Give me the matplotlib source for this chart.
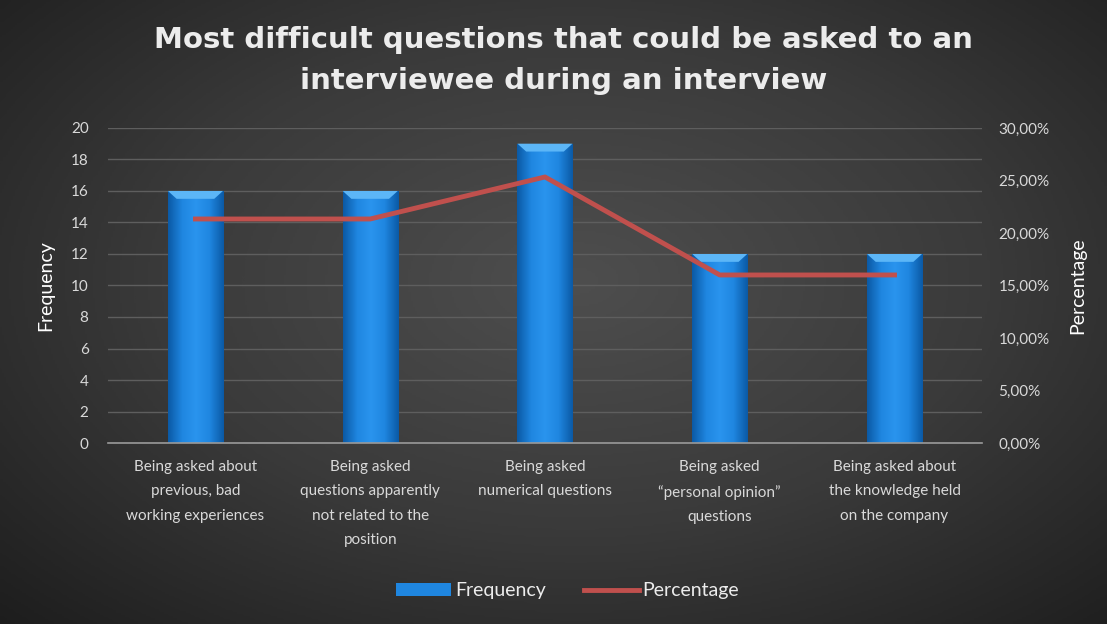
import matplotlib
matplotlib.use("Agg")
import matplotlib.pyplot as plt
import numpy as np
from matplotlib.patches import Polygon
from matplotlib.colors import LinearSegmentedColormap
from matplotlib.ticker import FuncFormatter

# Survey answers
categories = [
    "Being asked about\nprevious, bad\nworking experiences",
    "Being asked\nquestions apparently\nnot related to the\nposition",
    "Being asked\nnumerical questions",
    "Being asked\n\u201cpersonal opinion\u201d\nquestions",
    "Being asked about\nthe knowledge held\non the company",
]
frequency = [16, 16, 19, 12, 12]
percentage = [21.33, 21.33, 25.33, 16.00, 16.00]

title = "Most difficult questions that could be asked to an\ninterviewee during an interview"

plt.rcParams['font.family'] = ['Lato', 'DejaVu Sans']
txt = '#d9d9d9'

fig = plt.figure(figsize=(11.07, 6.24), dpi=100)

# dark radial backdrop
bg = fig.add_axes([0, 0, 1, 1], zorder=-10)
yy, xx = np.mgrid[0:1:300j, 0:1:500j]
r = np.sqrt(((xx - 0.52) / 0.75) ** 2 + ((yy - 0.45) / 0.8) ** 2)
bg_cmap = LinearSegmentedColormap.from_list('bg', ['#4e4e4e', '#3a3a3a', '#1c1c1c'])
bg.imshow(np.clip(r, 0, 1), cmap=bg_cmap, aspect='auto', extent=(0, 1, 0, 1), vmin=0, vmax=1)
bg.axis('off')

ax = fig.add_axes([0.0976, 0.29, 0.7894, 0.505])
ax.patch.set_alpha(0)
x = np.arange(len(categories))

bar_cmap = LinearSegmentedColormap.from_list('bar', ['#0b5aa6', '#1f86e0', '#2a94ee', '#1f86e0', '#0b5aa6'])
bars = ax.bar(x, frequency, width=0.315, color='#1f86e0', zorder=2, label='Frequency')
grad = np.linspace(0, 1, 64).reshape(1, -1)
for b in bars:
    x0, w, h = b.get_x(), b.get_width(), b.get_height()
    im = ax.imshow(grad, cmap=bar_cmap, aspect='auto', extent=(x0, x0 + w, 0, h), zorder=2.1)
    im.set_clip_path(b)
    # light bevel on top
    bh, inset = 0.5, 0.05
    ax.add_patch(Polygon([(x0, h), (x0 + w, h), (x0 + w - inset, h - bh), (x0 + inset, h - bh)],
                         closed=True, facecolor='#5cb6f7', edgecolor='none', zorder=2.2))

ax.set_xlim(-0.5, len(categories) - 0.5)
ax.set_ylim(0, 20)
ax.set_yticks(range(0, 21, 2))
ax.grid(axis='y', color='#5e5e5e', lw=1, zorder=0)
for s in ['top', 'right', 'left']:
    ax.spines[s].set_visible(False)
ax.spines['bottom'].set_color('#9a9a9a')
ax.spines['bottom'].set_linewidth(1.2)
ax.tick_params(axis='both', length=0, colors=txt, labelsize=11)
ax.tick_params(axis='y', pad=14)
ax.tick_params(axis='x', pad=12)
ax.set_xticks(x)
ax.set_xticklabels(categories, fontsize=11, color=txt, linespacing=1.95, va='top')
ax.set_ylabel('Frequency', color='white', fontsize=14, labelpad=12)

ax2 = ax.twinx()
ax2.patch.set_alpha(0)
line, = ax2.plot(x, percentage, color='#c0504d', lw=3.5, zorder=3, label='Percentage')
ax2.set_ylim(0, 30)
ax2.set_yticks(range(0, 31, 5))
ax2.yaxis.set_major_formatter(FuncFormatter(lambda v, p: f"{v:.2f}%".replace('.', ',')))
for s in ax2.spines.values():
    s.set_visible(False)
ax2.tick_params(axis='y', length=0, colors=txt, labelsize=11, pad=12)
ax2.set_ylabel('Percentage', color='white', fontsize=14, labelpad=14)

fig.text(0.509, 0.903, title, ha='center', va='center', color='#ececec',
         fontsize=21, fontweight='bold', linespacing=1.55, family='DejaVu Sans')

fig.legend(handles=[bars, line], loc='center', bbox_to_anchor=(0.513, 0.053), ncol=2,
           frameon=False, fontsize=14, labelcolor='#ececec', handlelength=2.8,
           columnspacing=2.0, handletextpad=0.2)

fig.savefig('out.png', dpi=100)
